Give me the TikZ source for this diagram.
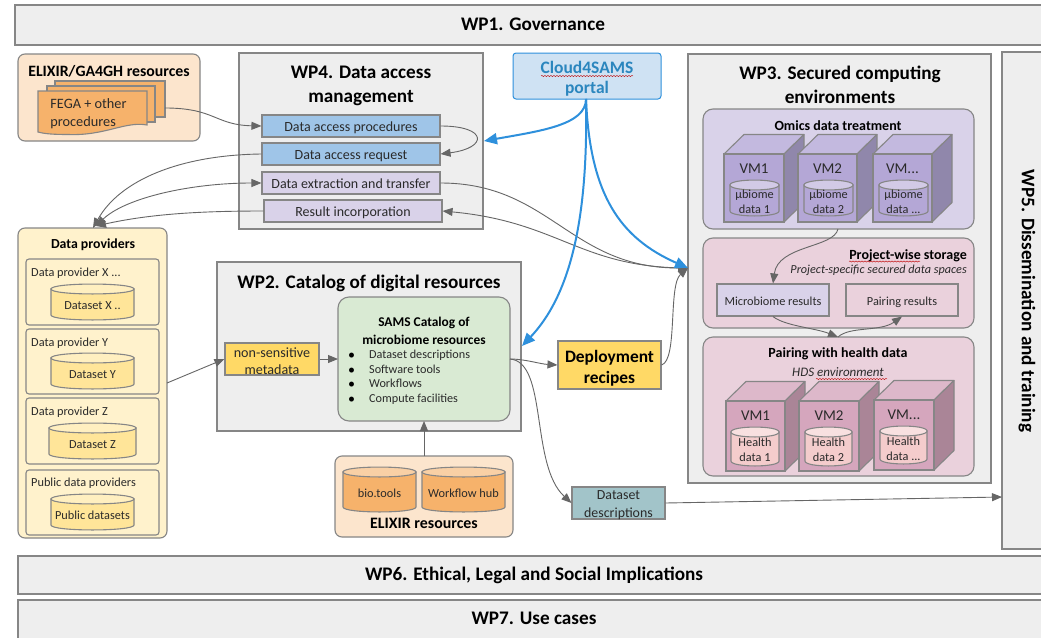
\documentclass[tikz,border=0pt]{standalone}
\usepackage{fontspec}
\setmainfont{Carlito}
\usetikzlibrary{arrows.meta,decorations.pathmorphing}
\definecolor{stk}{HTML}{868686}
\definecolor{wpbg}{HTML}{EEEEEE}
\definecolor{accblue}{HTML}{9FC5E8}
\definecolor{lav}{HTML}{D9D2E9}
\definecolor{peach}{HTML}{FCE5CD}
\definecolor{orng}{HTML}{F6B26B}
\definecolor{lyel}{HTML}{FFF2CC}
\definecolor{myel}{HTML}{FFE599}
\definecolor{gold}{HTML}{FFD966}
\definecolor{lgreen}{HTML}{D9EAD3}
\definecolor{lpink}{HTML}{EAD1DC}
\definecolor{teal2}{HTML}{A2C4C9}
\definecolor{cloudbg}{HTML}{CFE2F3}
\definecolor{cloudln}{HTML}{2E90DC}
\definecolor{cloudtx}{HTML}{2B86BE}
\definecolor{arrgray}{HTML}{666666}
\definecolor{txt}{HTML}{2A2A2A}
\definecolor{pufront}{HTML}{B4A7D6}
\definecolor{putop}{HTML}{C3B9DF}
\definecolor{puside}{HTML}{9087AB}
\definecolor{pucyl}{HTML}{B4A7D6}
\definecolor{pucyltop}{HTML}{D2CAE6}
\definecolor{pkfront}{HTML}{D5A6BD}
\definecolor{pktop}{HTML}{DDB8CA}
\definecolor{pkside}{HTML}{AA8597}
\definecolor{pkcyl}{HTML}{F4CCCC}
\definecolor{pkcyltop}{HTML}{F8E0E0}
\definecolor{yecyltop}{HTML}{FFEFC0}
\definecolor{orcyltop}{HTML}{F9D0A5}
\newcommand{\fz}[2]{\fontsize{#1}{#2}\selectfont}
\tikzset{
  x=1pt,y=-1pt,
  boxln/.style={draw=stk,line width=1.1pt},
  wpbox/.style={boxln,fill=wpbg},
  rbox/.style={boxln,rounded corners=7pt},
  ttl/.style={inner sep=0pt,align=center,text=black,font=\bfseries\fz{19.2}{24}},
  lbl/.style={inner sep=0pt,align=center,text=txt,font=\fz{12.3}{15}},
  wlbl/.style={inner sep=0pt,align=center,text=txt,font=\fz{14}{15}},
  accbox/.style={boxln,wlbl,minimum width=178pt,minimum height=22pt,text height=11.5pt,text depth=0pt},
  resbox/.style={boxln,lbl,minimum width=112pt,minimum height=32pt,text height=10pt,text depth=0pt},
  sub/.style={inner sep=0pt,align=center,text=black,font=\bfseries\fz{14}{18}},
  conn/.style={draw=arrgray,line width=.9pt,-{Triangle[length=10pt,width=8pt]}},
  bconn/.style={draw=cloudln,line width=2pt,-{Triangle[length=13pt,width=11pt]}},
  squig/.style={draw=red!75!black,line width=.4pt,decorate,decoration={snake,amplitude=.6pt,segment length=3pt}},
}
% name x1 y1 x2 y2 fill topfill text
\newcommand{\cyl}[8]{%
  \path[boxln,fill=#6] ({#2},{#3+5}) -- ({#2},{#5-5}) .. controls ({#2},{#5+1.6}) and ({#4},{#5+1.6}) .. ({#4},{#5-5}) -- ({#4},{#3+5}) -- cycle;
  \path[boxln,fill=#7] ({#2},{#3+5}) .. controls ({#2},{#3-1.6}) and ({#4},{#3-1.6}) .. ({#4},{#3+5}) .. controls ({#4},{#3+11.6}) and ({#2},{#3+11.6}) .. ({#2},{#3+5}) -- cycle;
  \node[lbl] (#1) at ({(#2+#4)/2},{(#3+#5)/2+3.5}) {#8};
}
% name x1 y1 x2 y2 colourprefix text
\newcommand{\vm}[7]{%
  \path[boxln,fill=#6top,line join=round] (#2,#3) -- ({#2+20},{#3-19.5}) -- ({#4+20},{#3-19.5}) -- (#4,#3) -- cycle;
  \path[boxln,fill=#6side,line join=round] (#4,#3) -- ({#4+20},{#3-19.5}) -- ({#4+20},{#5-19.5}) -- (#4,#5) -- cycle;
  \path[boxln,fill=#6front] (#2,#3) rectangle (#4,#5);
  \node[inner sep=0pt,text=txt,font=\fz{15}{18}] (#1) at ({(#2+#4)/2},{#3+15}) {#7};
}
\begin{document}
\begin{tikzpicture}
\clip (0,0) rectangle (1041,637);
\fill[white] (0,0) rectangle (1041,637);
% work packages
\path[wpbox] (15,5) rectangle (1050,45);
\node[ttl] (wp1) at (533,24.5) {WP1. Governance};
\path[wpbox] (1002,52) rectangle (1050,549);
\node[ttl,rotate=-90] (wp5) at (1027,301) {WP5. Dissemination and training};
\path[wpbox] (18,556) rectangle (1050,594);
\node[ttl] (wp6) at (534,575) {WP6. Ethical, Legal and Social Implications};
\path[wpbox] (18,600) rectangle (1050,645);
\node[ttl] (wp7) at (534,618.5) {WP7. Use cases};
% WP4
\path[wpbox] (239,53) rectangle (483,229);
\node[ttl] (wp4) at (361,86) {WP4. Data access\\management};
\node[accbox,fill=accblue] (dap) at (351,126) {Data access procedures};
\node[accbox,fill=accblue] (dar) at (351,154) {Data access request};
\node[accbox,fill=lav] (det) at (351,183) {Data extraction and transfer};
\node[accbox,fill=lav] (res) at (353,211) {Result incorporation};
% ELIXIR/GA4GH
\path[rbox,fill=peach] (18,54) rectangle (200,141);
\node[inner sep=0pt,font=\bfseries\fz{15.8}{16}] (ga4gh) at (109,71) {ELIXIR/GA4GH resources};
\path[boxln,fill=orng] (55,81) -- (165,81) -- (165,117) -- (55,117) -- cycle;
\path[boxln,fill=orng] (47,86) -- (155,86) -- (155,122) -- (47,122) -- cycle;
\path[boxln,fill=orng] (38,91) -- (147,91) -- (147,125) .. controls (125,121) and (105,136) .. (68,134.5) .. controls (55,134.5) and (45,134) .. (38,132) -- cycle;
\node[inner sep=0pt,align=left,text=txt,font=\fz{14.3}{18}] (fega) at (88.5,113.5) {FEGA + other\\procedures};
\coordinate (docs) at (165,108);
% Data providers
\path[rbox,fill=lyel] (18,228) rectangle (167,538);
\node[inner sep=0pt,font=\bfseries\fz{13.8}{15}] (dp) at (93,245) {Data providers};
\path[boxln,rounded corners=3pt] (26,259) rectangle (159,325);
\node[lbl,anchor=west] (dpx) at (31,273) {Data provider X ...};
\cyl{dsx}{51}{284}{134}{320}{myel}{yecyltop}{Dataset X ..}
\path[boxln,rounded corners=3pt] (26,329) rectangle (159,394);
\node[lbl,anchor=west] (dpy) at (31,343) {Data provider Y};
\cyl{dsy}{51}{353}{134}{389}{myel}{yecyltop}{Dataset Y}
\path[boxln,rounded corners=3pt] (26,398) rectangle (159,464);
\node[lbl,anchor=west] (dpz) at (31,412) {Data provider Z};
\cyl{dsz}{49}{423}{136}{459}{myel}{yecyltop}{Dataset Z}
\path[boxln,rounded corners=3pt] (26,470) rectangle (159,535);
\node[lbl,anchor=west] (dpp) at (31,483) {Public data providers};
\cyl{dsp}{51}{494}{134}{530}{myel}{yecyltop}{Public datasets}
% WP2
\path[wpbox] (217,262) rectangle (521,431);
\node[ttl] (wp2) at (369,283) {WP2. Catalog of digital resources};
\node[boxln,fill=gold,minimum width=94pt,minimum height=32pt,inner sep=0pt] (nsm) at (272,359) {};
\node[wlbl,font=\fz{14.1}{17.5}] (nsmt) at (272,361) {non-sensitive\\metadata};
\path[rbox,fill=lgreen,rounded corners=11pt] (338,297) rectangle (510,421);
\coordinate (catw) at (338,359);
\coordinate (cats) at (424,421);
\coordinate (cate) at (510,359);
\node[sub,font=\bfseries\fz{13.4}{18}] (sams) at (424,330.5) {SAMS Catalog of\\microbiome resources};
\node[inner sep=0pt,align=left,text=txt,font=\fz{12.2}{14.6},anchor=north west] (catl) at (369,350) {Dataset descriptions\\Software tools\\Workflows\\Compute facilities};
\node[inner sep=0pt,text=black,font=\fz{14}{14.6},align=left,anchor=north west] (catb) at (348,353) {\textbullet\\\textbullet\\\textbullet\\\textbullet};
% ELIXIR resources
\path[rbox,fill=peach] (335,456) rectangle (513,537);
\coordinate (elxn) at (424,456);
\cyl{bio}{343}{467}{416}{512}{orng}{orcyltop}{bio.tools}
\cyl{wfh}{422}{467}{505}{512}{orng}{orcyltop}{Workflow hub}
\node[inner sep=0pt,font=\bfseries\fz{15.9}{16}] (elx) at (424,523) {ELIXIR resources};
% Deployment, dataset
\node[boxln,fill=gold,minimum width=103pt,minimum height=48pt,inner sep=0pt] (dep) at (609.5,365) {};
\node[ttl,font=\bfseries\fz{17.4}{21}] (dept) at (609.5,368) {Deployment\\recipes};
\node[boxln,fill=teal2,minimum width=93pt,minimum height=32pt,inner sep=0pt] (dsd) at (618.5,503) {};
\node[wlbl,font=\fz{13.9}{17.5}] (dsdt) at (618.5,505) {Dataset\\descriptions};
% Cloud
\path[draw=cloudln,line width=1pt,fill=cloudbg,rounded corners=3pt] (513,53) rectangle (661,99);
\node[inner sep=0pt,text=cloudtx,font=\bfseries\fz{17.5}{20}] (c4s) at (587,67) {Cloud4SAMS};
\node[inner sep=0pt,text=cloudtx,font=\bfseries\fz{17.5}{20}] (portal) at (587,89) {portal};
\coordinate (cloudS) at (586,99);
\path[squig] (541,76) -- (633,76);
% WP3
\path[wpbox] (688,54) rectangle (991,483);
\coordinate (wp3w) at (688,268);
\node[ttl] (wp3) at (840,84.5) {WP3. Secured computing\\environments};
\path[rbox,fill=lav,rounded corners=10pt] (703,109) rectangle (974,229);
\node[sub] (omics) at (838,125.5) {Omics data treatment};
\coordinate (omS) at (838,229);
\vm{vm1}{724}{154}{784}{222}{pu}{VM1}
\vm{vm2}{798}{154}{857}{222}{pu}{VM2}
\vm{vm3}{873}{154}{932}{222}{pu}{VM...}
\cyl{ub1}{730}{180}{779}{216}{pucyl}{pucyltop}{μbiome\\data 1}
\cyl{ub2}{804}{180}{853}{216}{pucyl}{pucyltop}{μbiome\\data 2}
\cyl{ub3}{879}{180}{928}{216}{pucyl}{pucyltop}{μbiome\\data ...}
\path[rbox,fill=lpink,rounded corners=10pt] (703,238) rectangle (974,328);
\node[sub,anchor=east] (pws) at (967,255.5) {Project-wise storage};
\path[squig] (849,261.5) -- (920,261.5);
\node[inner sep=0pt,anchor=east,text=txt,font=\itshape\fz{12.2}{14}] (pss) at (967,270.5) {Project-specific secured data spaces};
\node[resbox,fill=lav] (mbr) at (773,300) {Microbiome results};
\node[resbox] (prr) at (902,300) {Pairing results};
\path[rbox,fill=lpink,rounded corners=10pt] (703,337) rectangle (974,476);
\coordinate (phN) at (838,337);
\node[sub] (phd) at (838,354) {Pairing with health data};
\node[inner sep=0pt,text=txt,font=\itshape\fz{13}{15}] (hds) at (838,372) {HDS environment};
\path[squig] (816,379) -- (887,379);
\vm{vma}{726}{401}{785}{471}{pk}{VM1}
\vm{vmb}{799}{401}{859}{471}{pk}{VM2}
\vm{vmc}{874}{400}{934}{470}{pk}{VM...}
\cyl{hd1}{731}{427}{779}{466}{pkcyl}{pkcyltop}{Health\\data 1}
\cyl{hd2}{805}{427}{852}{466}{pkcyl}{pkcyltop}{Health\\data 2}
\cyl{hd3}{880}{426}{927}{464}{pkcyl}{pkcyltop}{Health\\data ...}
\coordinate (dpN) at (93,228);
\coordinate (dpN2) at (96,226);
\coordinate (dpE) at (167,383);
\coordinate (wp4e) at (484,141);
\coordinate (cattip) at (522,346);
\coordinate (wp5w) at (1002,497);
% connectors
\draw[conn] (docs) .. controls (215,108) and (215,125) .. (dap.west);
\draw[conn] (dap.east) .. controls (488,126) and (488,148) .. (dar.east);
\draw[conn] (dar.west) .. controls (180,155) and (120,180) .. (dpN);
\draw[conn,{Triangle[length=10pt,width=8pt]}-{Triangle[length=10pt,width=8pt]}] (dpN2) .. controls (125,198) and (190,183) .. (det.west);
\draw[conn] (res.west) .. controls (200,211) and (150,214) .. (dpN2);
\draw[conn] (det.east) .. controls (550,183) and (570,268) .. (wp3w);
\draw[conn,{Triangle[length=10pt,width=8pt]}-] (res.east) .. controls (560,222) and (580,268) .. (wp3w);
\draw[conn] (dep.east) .. controls (678,360) and (668,285) .. (wp3w);
\draw[conn] (dpE) -- (nsm.west);
\draw[conn] (nsm.east) -- (catw);
\draw[conn] (cate) .. controls (525,359) and (540,364) .. (dep.west);
\draw[conn] (cate) .. controls (548,362) and (530,465) .. (dsd.west);
\draw[conn] (elxn) -- (cats);
\draw[conn] (dsd.east) -- (wp5w);
\draw[conn] (omS) .. controls (834,248) and (778,245) .. (mbr.north);
\draw[conn] (mbr.south) .. controls (785,326) and (815,328) .. (phN);
\draw[conn] (phN) .. controls (850,326) and (880,332) .. (prr.south);
\draw[bconn] (cloudS) .. controls (586,125) and (540,131) .. (wp4e);
\draw[bconn] (cloudS) .. controls (590,195) and (620,238) .. (wp3w);
\draw[bconn] (cloudS) .. controls (588,205) and (575,290) .. (cattip);
\end{tikzpicture}
\end{document}
